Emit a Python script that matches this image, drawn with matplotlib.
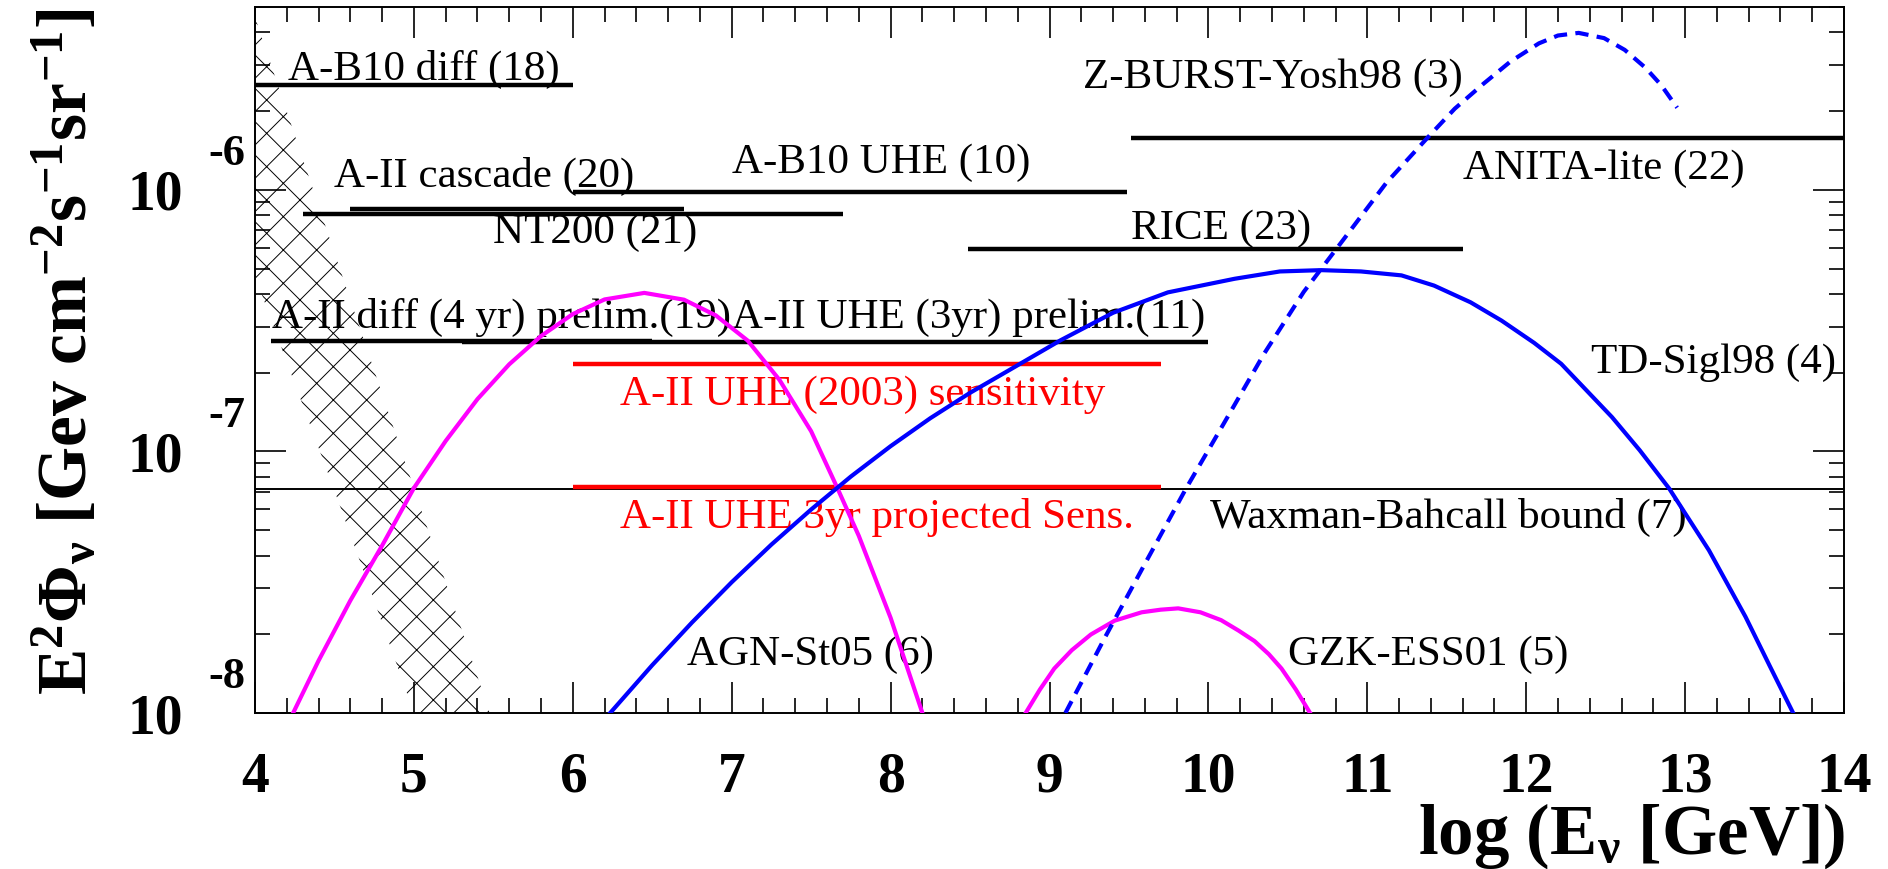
import numpy as np
import matplotlib
matplotlib.use("Agg")
import matplotlib.pyplot as plt
from matplotlib import ticker, transforms

# ---------------- data ----------------
# atmospheric band (cross-hatched): log10(E/GeV), lower / upper E^2 flux
band_logE = [4.0, 4.25, 4.5, 4.75, 5.0, 5.25, 5.5]
band_low = [4.68e-7, 1.82e-7, 7.08e-8, 2.69e-8, 1.0e-8, 3.8e-9, 1.41e-9]
band_high = [4.57e-6, 1.62e-6, 5.75e-7, 2.04e-7, 7.24e-8, 2.57e-8, 9.1e-9]

# AGN-St05 (6): log10(E/GeV), log10(E^2 flux)
agn_logE = [4.24, 4.4, 4.6, 4.8, 5.0, 5.2, 5.4, 5.6, 5.8, 6.0, 6.2, 6.45,
            6.7, 6.9, 7.1, 7.3, 7.5, 7.665, 7.8, 8.0, 8.2]
agn_log_flux = [-8.0, -7.80, -7.57, -7.36, -7.14, -6.96, -6.80, -6.667,
                -6.559, -6.475, -6.419, -6.394, -6.420, -6.480, -6.576,
                -6.726, -6.923, -7.14, -7.323, -7.636, -8.0]

# TD-Sigl98 (4)
td_logE = [6.235, 6.5, 6.75, 7.0, 7.25, 7.5, 7.75, 8.0, 8.25, 8.5, 8.75,
           9.07, 9.4, 9.745, 10.165, 10.45, 10.71, 10.96, 11.215, 11.42,
           11.65, 11.845, 12.05, 12.22, 12.54, 12.715, 12.90, 13.15, 13.38,
           13.535, 13.68]
td_log_flux = [-8.0, -7.817, -7.654, -7.50, -7.356, -7.222, -7.096, -6.98,
               -6.873, -6.776, -6.688, -6.575, -6.47, -6.392, -6.34, -6.312,
               -6.307, -6.312, -6.327, -6.366, -6.43, -6.50, -6.585, -6.665,
               -6.869, -6.996, -7.142, -7.378, -7.632, -7.823, -8.0]

# Z-BURST-Yosh98 (3)
zb_logE = [9.10, 9.35, 9.6, 9.86, 10.1, 10.35, 10.6, 10.85, 11.12, 11.38,
           11.55, 11.73, 11.9, 12.08, 12.2, 12.33, 12.49, 12.62, 12.75,
           12.85, 12.95]
zb_log_flux = [-8.0, -7.71, -7.43, -7.141, -6.89, -6.627, -6.39, -6.19,
               -5.973, -5.80, -5.69, -5.595, -5.51, -5.44, -5.41, -5.40,
               -5.42, -5.465, -5.533, -5.60, -5.686]

# GZK-ESS01 (5)
gzk_logE = [8.85, 8.94, 9.03, 9.14, 9.26, 9.41, 9.58, 9.7, 9.81, 9.95,
            10.08, 10.19, 10.29, 10.38, 10.46, 10.55, 10.64]
gzk_log_flux = [-8.0, -7.91, -7.83, -7.76, -7.70, -7.647, -7.615, -7.605,
                -7.60, -7.615, -7.645, -7.685, -7.725, -7.775, -7.83, -7.91,
                -8.0]

# experimental limits (black horizontal lines)
limit_names = ["A-B10 diff (18)", "A-II cascade (20)", "NT200 (21)",
               "A-B10 UHE (10)", "A-II diff (4 yr) prelim.(19)",
               "A-II UHE (3yr) prelim.(11)", "ANITA-lite (22)", "RICE (23)"]
limit_emin = [4.0, 4.60, 4.30, 6.0, 4.10, 5.30, 9.51, 8.49]
limit_emax = [6.0, 6.70, 7.70, 9.49, 6.50, 10.0, 14.0, 11.60]
limit_flux = [2.52e-6, 8.44e-7, 8.1e-7, 9.8e-7, 2.645e-7, 2.625e-7, 1.58e-6, 5.94e-7]

# sensitivities (red horizontal lines)
sens_names = ["A-II UHE (2003) sensitivity", "A-II UHE 3yr projected Sens."]
sens_emin = [6.0, 6.0]
sens_emax = [9.70, 9.70]
sens_flux = [2.15e-7, 7.31e-8]

# Waxman-Bahcall bound (7)
wb_name = "Waxman-Bahcall bound (7)"
wb_flux = 7.2e-8

# axis ticks
xtick_values = [4, 5, 6, 7, 8, 9, 10, 11, 12, 13, 14]
xtick_labels = ["4", "5", "6", "7", "8", "9", "10", "11", "12", "13", "14"]
ytick_decades = [1e-8, 1e-7, 1e-6]
ytick_exponents = ["-8", "-7", "-6"]

# ---------------- text placement (layout, not data) ----------------
label_texts = limit_names + ["Z-BURST-Yosh98 (3)", "TD-Sigl98 (4)", wb_name,
                             "AGN-St05 (6)", "GZK-ESS01 (5)"] + sens_names
label_x = [4.21, 4.50, 5.50, 7.00, 4.11, 7.00, 11.60, 9.51,
           9.21, 12.41, 10.01, 6.72, 10.50, 6.30, 6.30]
label_y = [2.63e-6, 1.03e-6, 6.28e-7, 1.16e-6, 2.97e-7, 2.97e-7, 1.10e-6, 6.5e-7,
           2.45e-6, 2.0e-7, 5.08e-8, 1.52e-8, 1.52e-8, 1.50e-7, 5.08e-8]
label_colors = ["black"] * 13 + ["red", "red"]

# ---------------- figure ----------------
plt.rcParams["mathtext.fontset"] = "custom"
plt.rcParams["mathtext.rm"] = "Liberation Serif"
plt.rcParams["mathtext.it"] = "Liberation Serif:italic"
plt.rcParams["mathtext.bf"] = "Liberation Serif:bold"
plt.rcParams["hatch.linewidth"] = 0.7
SERIF = ["Liberation Serif", "DejaVu Serif"]

W, H = 1888, 869
fig = plt.figure(figsize=(W / 100, H / 100), dpi=100)
fig.patch.set_facecolor("white")
ax = fig.add_axes([255 / W, 1 - 713 / H, (1844 - 255) / W, (713 - 7) / H])
ax.set_xlim(4, 14)
ax.set_yscale("log")
ax.set_ylim(1e-8, 5e-6)

# band
ax.fill_between(band_logE, band_low, band_high, facecolor="none",
                edgecolor="black", hatch="x", linewidth=0, zorder=1)

# limit lines
for e0, e1, f in zip(limit_emin, limit_emax, limit_flux):
    ax.plot([e0, e1], [f, f], color="black", lw=3.2, solid_capstyle="butt", zorder=2)
for e0, e1, f in zip(sens_emin, sens_emax, sens_flux):
    ax.plot([e0, e1], [f, f], color="#ff0000", lw=3.2, solid_capstyle="butt", zorder=2)
ax.axhline(wb_flux, color="black", lw=1.4, zorder=1.5)

# model curves
def pw(v):
    return np.power(10.0, np.asarray(v))

ax.plot(agn_logE, pw(agn_log_flux), color="#ff00ff", lw=3.0, zorder=4)
ax.plot(gzk_logE, pw(gzk_log_flux), color="#ff00ff", lw=3.0, zorder=4)
ax.plot(td_logE, pw(td_log_flux), color="#0000ff", lw=3.0, zorder=4)
ax.plot(zb_logE, pw(zb_log_flux), color="#0000ff", lw=3.0, ls=(0, (3.2, 2.0)), zorder=4)

# labels
for t, x, y, c in zip(label_texts, label_x, label_y, label_colors):
    ax.text(x, y, t, color=c, fontsize=31, family=SERIF, ha="left",
            va="baseline", zorder=3)

# ticks
ax.xaxis.set_major_locator(ticker.FixedLocator(xtick_values))
ax.xaxis.set_minor_locator(ticker.MultipleLocator(0.2))
ax.set_xticklabels(xtick_labels, fontsize=40, fontweight="bold", family=SERIF)
ax.yaxis.set_major_locator(ticker.FixedLocator(ytick_decades))
ax.yaxis.set_minor_locator(ticker.LogLocator(base=10, subs=np.arange(2, 10), numticks=30))
ax.yaxis.set_major_formatter(ticker.NullFormatter())
ax.yaxis.set_minor_formatter(ticker.NullFormatter())
ax.tick_params(which="both", direction="in", top=True, right=True, width=1.2,
               color="black")
ax.tick_params(which="major", length=22)
ax.tick_params(which="minor", length=11)
ax.tick_params(axis="x", which="major", pad=28)
for sp in ax.spines.values():
    sp.set_linewidth(1.4)

ytrans = transforms.blended_transform_factory(ax.transAxes, ax.transData)
for v, e in zip(ytick_decades, ytick_exponents):
    ax.annotate("10", xy=(0, v), xycoords=ytrans, xytext=(-72, 0),
                textcoords="offset pixels", ha="right", va="center_baseline",
                fontsize=40, fontweight="bold", family=SERIF, annotation_clip=False)
    ax.annotate(e, xy=(0, v), xycoords=ytrans, xytext=(-10, 40),
                textcoords="offset pixels", ha="right", va="center_baseline",
                fontsize=32, fontweight="bold", family=SERIF, annotation_clip=False)

# axis titles
fig.text(66 / W, 1 - 352 / H,
         r"$\mathbf{E^{2}\Phi_{\nu}\ [Gev\ cm^{-2}s^{-1}sr^{-1}]}$",
         rotation=90, ha="center", va="center", fontsize=50)
fig.text(1845 / W, 1 - 854 / H, r"$\mathbf{log\ (E_{\nu}\ [GeV])}$",
         ha="right", va="baseline", fontsize=51)

fig.savefig("out.png", dpi=100, facecolor="white")
